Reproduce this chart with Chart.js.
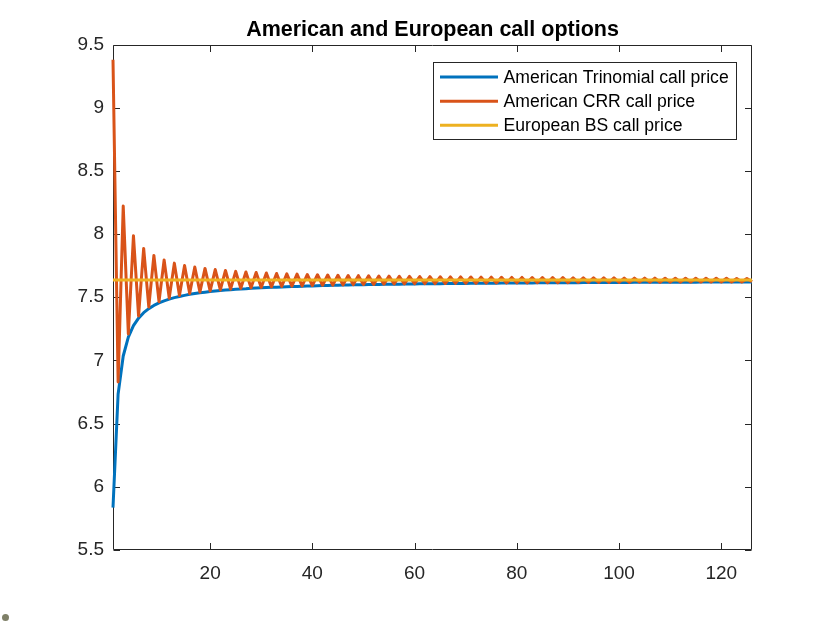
<!DOCTYPE html>
<html>
<head>
<meta charset="utf-8">
<script src="https://cdn.jsdelivr.net/npm/chart.js@4.4.1/dist/chart.umd.min.js"></script>
<style>
  html, body { margin: 0; padding: 0; background: #ffffff; }
  #wrap { position: relative; width: 830px; height: 624px; }
  #dot { position: absolute; left: 2px; top: 614px; width: 7px; height: 7px; border-radius: 50%; background: #7f8068; }
</style>
</head>
<body>
<div id="wrap">
  <canvas id="c" width="830" height="624"></canvas>
  <div id="dot"></div>
</div>
<script>
const chartTitle = 'American and European call options';
const seriesLabels = ['American Trinomial call price', 'American CRR call price', 'European BS call price'];
const steps = [1,2,3,4,5,6,7,8,9,10,11,12,13,14,15,16,17,18,19,20,21,22,23,24,25,26,27,28,29,30,
  31,32,33,34,35,36,37,38,39,40,41,42,43,44,45,46,47,48,49,50,51,52,53,54,55,56,57,58,59,60,
  61,62,63,64,65,66,67,68,69,70,71,72,73,74,75,76,77,78,79,80,81,82,83,84,85,86,87,88,89,90,
  91,92,93,94,95,96,97,98,99,100,101,102,103,104,105,106,107,108,109,110,111,112,113,114,115,116,117,118,119,120,
  121,122,123,124,125,126];
const trinomial = [5.835,6.735,7.035,7.185,7.275,7.335,7.378,7.410,7.435,7.455,
  7.471,7.485,7.497,7.506,7.515,7.523,7.529,7.535,7.540,7.545,
  7.549,7.553,7.557,7.560,7.563,7.566,7.568,7.571,7.573,7.575,
  7.577,7.579,7.580,7.582,7.584,7.585,7.586,7.588,7.589,7.590,
  7.591,7.592,7.593,7.594,7.595,7.596,7.597,7.598,7.598,7.599,
  7.600,7.600,7.601,7.602,7.602,7.603,7.603,7.604,7.605,7.605,
  7.606,7.606,7.606,7.607,7.607,7.608,7.608,7.609,7.609,7.609,
  7.610,7.610,7.610,7.611,7.611,7.611,7.612,7.612,7.612,7.613,
  7.613,7.613,7.613,7.614,7.614,7.614,7.614,7.615,7.615,7.615,
  7.615,7.615,7.616,7.616,7.616,7.616,7.616,7.617,7.617,7.617,
  7.617,7.617,7.618,7.618,7.618,7.618,7.618,7.618,7.619,7.619,
  7.619,7.619,7.619,7.619,7.619,7.620,7.620,7.620,7.620,7.620,
  7.620,7.620,7.620,7.621,7.621,7.621];
const crr = [9.380,6.830,8.222,7.210,7.987,7.352,7.886,7.423,7.831,7.465,
  7.795,7.493,7.770,7.514,7.752,7.529,7.739,7.541,7.728,7.550,
  7.719,7.558,7.712,7.564,7.705,7.570,7.700,7.574,7.696,7.578,
  7.692,7.582,7.688,7.585,7.685,7.588,7.683,7.590,7.680,7.593,
  7.678,7.595,7.676,7.596,7.674,7.598,7.672,7.600,7.671,7.601,
  7.670,7.602,7.668,7.604,7.667,7.605,7.666,7.606,7.665,7.607,
  7.664,7.608,7.663,7.608,7.662,7.609,7.661,7.610,7.661,7.611,
  7.660,7.611,7.659,7.612,7.659,7.613,7.658,7.613,7.657,7.614,
  7.657,7.614,7.656,7.615,7.656,7.615,7.655,7.616,7.655,7.616,
  7.654,7.617,7.654,7.617,7.654,7.617,7.653,7.618,7.653,7.618,
  7.652,7.618,7.652,7.619,7.652,7.619,7.651,7.619,7.651,7.620,
  7.651,7.620,7.651,7.620,7.650,7.620,7.650,7.621,7.650,7.621,
  7.650,7.621,7.649,7.621,7.649,7.622];
const bsSteps = [1, 126];
const bsPrice = [7.636, 7.636];
const xTickValues = [20, 40, 60, 80, 100, 120];
const yTickValues = [5.5, 6, 6.5, 7, 7.5, 8, 8.5, 9, 9.5];
const colors = ['#0072BD', '#D95319', '#EDB120'];

const AXIS = '#262626';
const FONT = "'Liberation Sans', Arial, Helvetica, sans-serif";

const boxPlugin = {
  id: 'matlabBox',
  beforeDatasetsDraw(chart) {
    const {ctx, chartArea: a, scales} = chart;
    const L = Math.round(a.left) + 0.5, R = Math.round(a.right) - 0.5;
    const T = Math.round(a.top) + 0.5, B = Math.round(a.bottom) - 0.5;
    ctx.save();
    ctx.strokeStyle = AXIS;
    ctx.lineWidth = 1;
    ctx.beginPath();
    ctx.rect(L, T, R - L, B - T);
    const tl = 6.5;
    xTickValues.forEach(v => {
      const px = Math.round(scales.x.getPixelForValue(v)) + 0.5;
      ctx.moveTo(px, B); ctx.lineTo(px, B - tl);
      ctx.moveTo(px, T); ctx.lineTo(px, T + tl);
    });
    yTickValues.forEach(v => {
      const py = Math.round(scales.y.getPixelForValue(v)) + 0.5;
      ctx.moveTo(L, py); ctx.lineTo(L + tl, py);
      ctx.moveTo(R, py); ctx.lineTo(R - tl, py);
    });
    ctx.stroke();
    // title, centred over the axes
    ctx.fillStyle = '#000000';
    ctx.font = 'bold 21.5px ' + FONT;
    ctx.textAlign = 'center';
    ctx.textBaseline = 'middle';
    ctx.fillText(chartTitle, (a.left + a.right) / 2, 30);
    ctx.restore();
  },
  afterDraw(chart) {
    const {ctx, chartArea: a} = chart;
    const bx = Math.round(a.right) - 16 + 0.5 - 303;
    const by = Math.round(a.top) + 17 + 0.5;
    const bw = 303, bh = 77;
    ctx.save();
    ctx.fillStyle = '#ffffff';
    ctx.fillRect(bx, by, bw, bh);
    ctx.strokeStyle = AXIS;
    ctx.lineWidth = 1;
    ctx.strokeRect(bx, by, bw, bh);
    const rows = [14.4, 38.7, 62.7];
    ctx.font = '17.6px ' + FONT;
    ctx.textBaseline = 'middle';
    ctx.textAlign = 'left';
    seriesLabels.forEach((lab, i) => {
      const yy = by + rows[i];
      ctx.strokeStyle = colors[i];
      ctx.lineWidth = 3;
      ctx.beginPath();
      ctx.moveTo(bx + 6.5, yy);
      ctx.lineTo(bx + 64.5, yy);
      ctx.stroke();
      ctx.fillStyle = '#000000';
      ctx.fillText(lab, bx + 70, yy + 1);
    });
    ctx.restore();
  }
};

const lineStyle = { borderWidth: 3, pointRadius: 0, tension: 0, clip: 5, borderJoinStyle: 'round', borderCapStyle: 'butt' };

new Chart(document.getElementById('c'), {
  type: 'line',
  data: {
    datasets: [
      Object.assign({ label: seriesLabels[0], data: steps.map((s, i) => ({x: s, y: trinomial[i]})),
        borderColor: colors[0], backgroundColor: colors[0], order: 2 }, lineStyle),
      Object.assign({ label: seriesLabels[1], data: steps.map((s, i) => ({x: s, y: crr[i]})),
        borderColor: colors[1], backgroundColor: colors[1], order: 1 }, lineStyle),
      Object.assign({ label: seriesLabels[2], data: bsSteps.map((s, i) => ({x: s, y: bsPrice[i]})),
        borderColor: colors[2], backgroundColor: colors[2], order: 0 }, lineStyle)
    ]
  },
  options: {
    responsive: false,
    animation: false,
    devicePixelRatio: 1,
    layout: { padding: { left: 0, right: 78, top: 44.5, bottom: 34 } },
    plugins: {
      legend: { display: false },
      tooltip: { enabled: false },
      title: { display: false }
    },
    scales: {
      x: {
        type: 'linear',
        min: 1, max: 126,
        border: { display: false },
        grid: { display: false, drawTicks: false },
        afterBuildTicks: s => { s.ticks = xTickValues.map(v => ({value: v})); },
        afterFit: s => { s.height = 40; },
        ticks: { color: AXIS, font: { family: FONT, size: 19 }, padding: 12, maxRotation: 0, callback: v => String(v) }
      },
      y: {
        type: 'linear',
        min: 5.5, max: 9.5,
        border: { display: false },
        grid: { display: false, drawTicks: false },
        afterBuildTicks: s => { s.ticks = yTickValues.map(v => ({value: v})); },
        afterFit: s => { s.width = 113; },
        ticks: { color: AXIS, font: { family: FONT, size: 19 }, padding: 9, callback: v => String(v) }
      }
    }
  },
  plugins: [boxPlugin]
});
</script>
</body>
</html>
